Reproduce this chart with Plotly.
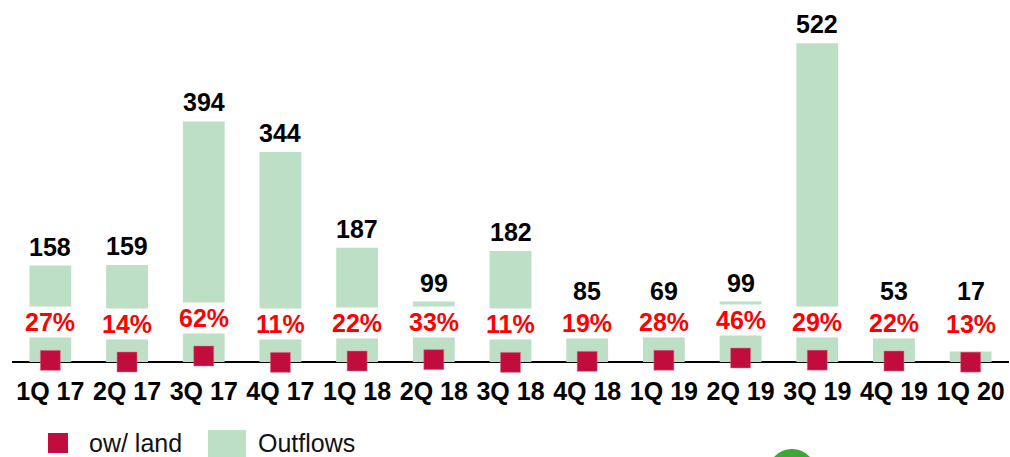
import plotly.graph_objects as go

quarters = ["1Q 17", "2Q 17", "3Q 17", "4Q 17", "1Q 18", "2Q 18", "3Q 18",
            "4Q 18", "1Q 19", "2Q 19", "3Q 19", "4Q 19", "1Q 20"]
outflows = [158, 159, 394, 344, 187, 99, 182, 85, 69, 99, 522, 53, 17]
land_pct = [27, 14, 62, 11, 22, 33, 11, 19, 28, 46, 29, 22, 13]

FONT = "Liberation Sans, Arial, sans-serif"
BAR_COLOR = "rgb(188,223,197)"
MARK_COLOR = "rgb(192,13,61)"
LABEL_FLOOR = 86  # value labels never sit lower than this (data units)

W, H = 1010, 457
L, R, T, B = 12, 1, 10, 83
PW, PH = W - L - R, H - T - B
PB = H - B  # plot bottom in px
ZERO_PX = 362  # baseline pixel
U_PER_PX = 1.638  # outflow units per px
P_PER_PX = 8.0  # pct units per px
P_ZERO_PX = 363.75


def px(x):
    return (x - L) / PW


def py(y):
    return (PB - y) / PH


fig = go.Figure()

fig.add_trace(go.Bar(
    x=quarters, y=outflows, name="Outflows",
    marker=dict(color=BAR_COLOR, line=dict(width=0)),
    showlegend=False, hoverinfo="x+y",
))

fig.add_trace(go.Scatter(
    x=quarters, y=land_pct, name="ow/ land", mode="markers", yaxis="y2",
    marker=dict(symbol="square", size=20, color=MARK_COLOR,
                line=dict(width=0.5, color="rgb(220,120,140)")),
    cliponaxis=False, showlegend=False,
))

annotations = []
for q, v in zip(quarters, outflows):
    annotations.append(dict(
        x=q, y=max(v, LABEL_FLOOR), xref="x", yref="y", text=str(v),
        showarrow=False, yanchor="bottom", yshift=4, borderpad=0,
        font=dict(family=FONT, size=25, color="black", weight="bold"),
    ))
for q, p in zip(quarters, land_pct):
    annotations.append(dict(
        x=q, y=p, xref="x", yref="y2", text=f"{p}%", showarrow=False,
        yshift=38, bgcolor="white", borderpad=1,
        font=dict(family=FONT, size=25, color="#FF0000", weight="bold"),
    ))

# legend
annotations += [
    dict(x=px(87), y=py(443), xref="paper", yref="paper", text="ow/ land",
         showarrow=False, xanchor="left", yanchor="middle",
         font=dict(family=FONT, size=25, color="#111")),
    dict(x=px(256), y=py(443), xref="paper", yref="paper", text="Outflows",
         showarrow=False, xanchor="left", yanchor="middle",
         font=dict(family=FONT, size=25, color="#111")),
]

shapes = [
    dict(type="rect", xref="paper", yref="paper", x0=px(48), x1=px(68),
         y0=py(453), y1=py(433), fillcolor=MARK_COLOR, line=dict(width=0)),
    dict(type="rect", xref="paper", yref="paper", x0=px(208), x1=px(246),
         y0=py(470), y1=py(430), fillcolor=BAR_COLOR, line=dict(width=0)),
    dict(type="circle", xref="paper", yref="paper", x0=px(768), x1=px(816),
         y0=py(497), y1=py(449), fillcolor="#3AAA35", line=dict(width=0)),
]

y_top = (ZERO_PX - T) * U_PER_PX
y_bot = -(PB - ZERO_PX) * U_PER_PX
y2_top = (P_ZERO_PX - T) * P_PER_PX
y2_bot = -(PB - P_ZERO_PX) * P_PER_PX

fig.update_layout(
    width=W, height=H,
    margin=dict(l=L, r=R, t=T, b=B),
    paper_bgcolor="white", plot_bgcolor="white",
    bargap=0.455,
    showlegend=False,
    xaxis=dict(range=[-0.5, len(quarters) - 0.5], showline=False, ticks="",
               showgrid=False, zeroline=False,
               tickfont=dict(family=FONT, size=25, color="black", weight="bold"),
               ticklabelstandoff=0),
    yaxis=dict(range=[y_bot, y_top], showticklabels=False, showgrid=False,
               zeroline=True, zerolinecolor="black", zerolinewidth=1.5,
               showline=False, ticks=""),
    yaxis2=dict(range=[y2_bot, y2_top], overlaying="y", visible=False),
    annotations=annotations,
    shapes=shapes,
)

fig.write_html(
    "out.html",
    config={"displayModeBar": False},
    post_script="document.body.style.margin='0';document.body.style.overflow='hidden';",
)
